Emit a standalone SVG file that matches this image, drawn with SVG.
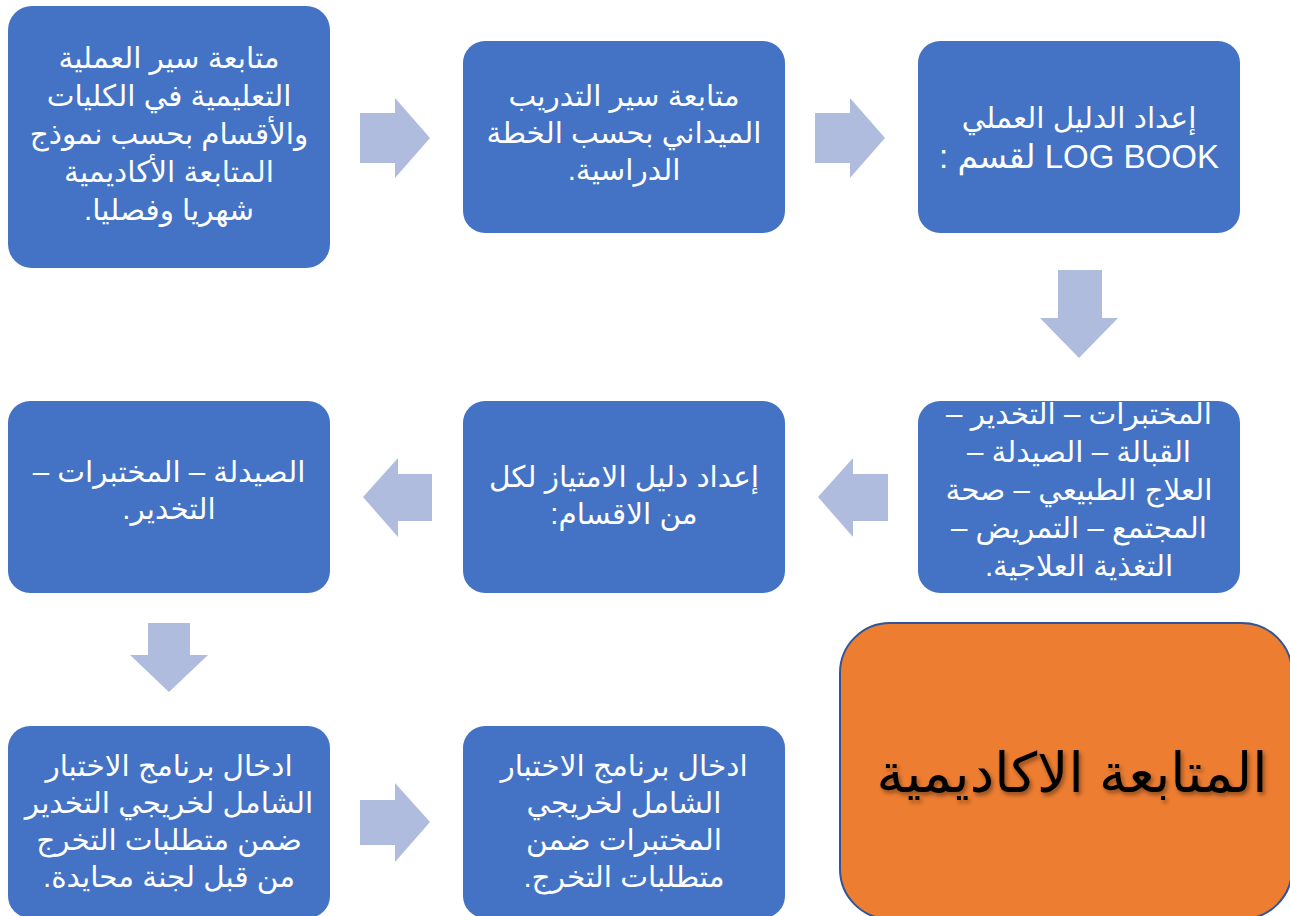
<svg xmlns="http://www.w3.org/2000/svg" width="1290" height="916" viewBox="0 0 1290 916">
<style>
.box{fill:#4472c4;}
.arr{fill:#b0bcde;}
.t{font-family:"Liberation Sans","DejaVu Sans",sans-serif;fill:#ffffff;font-size:29.5px;text-anchor:middle;direction:rtl;unicode-bidi:embed;}
.big{font-family:"Liberation Sans","DejaVu Sans",sans-serif;fill:#000000;font-size:55px;text-anchor:middle;direction:rtl;unicode-bidi:embed;}
</style>
<defs>
<filter id="sh" x="-10%" y="-10%" width="120%" height="130%">
<feDropShadow dx="2" dy="3" stdDeviation="2" flood-color="#000" flood-opacity="0.4"/>
</filter>
</defs>
<rect width="1290" height="916" fill="#ffffff"/>
<g id="connectors">
<polygon class="arr" points="360,113 395,113 395,98 430,138 395,178 395,163 360,163"/>
<polygon class="arr" points="815,113 850,113 850,98 885,138 850,178 850,163 815,163"/>
<polygon class="arr" points="1058,270 1102,270 1102,318 1118,318 1079,358 1040,318 1058,318"/>
<polygon class="arr" points="888,474 853,474 853,458 818,497 853,537 853,521 888,521"/>
<polygon class="arr" points="432,474 398,474 398,458 363,497 398,537 398,521 432,521"/>
<polygon class="arr" points="148,623 190,623 190,655 208,655 169,692 130,655 148,655"/>
<polygon class="arr" points="360,800 395,800 395,783 430,822 395,862 395,845 360,845"/>
</g>
<g id="node1">
<rect class="box" x="8" y="6" width="322" height="262" rx="24"/>
<text class="t" x="169" y="68">متابعة سير العملية</text>
<text class="t" x="169" y="106">التعليمية في الكليات</text>
<text class="t" x="169" y="144">والأقسام بحسب نموذج</text>
<text class="t" x="169" y="182">المتابعة الأكاديمية</text>
<text class="t" x="169" y="220">شهريا وفصليا.</text>
</g>
<g id="node2">
<rect class="box" x="463" y="41" width="322" height="192" rx="22"/>
<text class="t" x="624" y="106">متابعة سير التدريب</text>
<text class="t" x="624" y="143">الميداني بحسب الخطة</text>
<text class="t" x="624" y="180">الدراسية.</text>
</g>
<g id="node3">
<rect class="box" x="918" y="41" width="322" height="192" rx="22"/>
<text class="t" x="1079" y="128">إعداد الدليل العملي</text>
<text class="t" x="1079" y="168" style="font-size:33px">LOG BOOK لقسم :</text>
</g>
<g id="node4">
<rect class="box" x="918" y="401" width="322" height="192" rx="22"/>
<text class="t" x="1079" y="424">المختبرات – التخدير –</text>
<text class="t" x="1079" y="462">القبالة – الصيدلة –</text>
<text class="t" x="1079" y="500">العلاج الطبيعي – صحة</text>
<text class="t" x="1079" y="538">المجتمع – التمريض –</text>
<text class="t" x="1079" y="576">التغذية العلاجية.</text>
</g>
<g id="node5">
<rect class="box" x="463" y="401" width="322" height="192" rx="22"/>
<text class="t" x="624" y="487">إعداد دليل الامتياز لكل</text>
<text class="t" x="624" y="524">من الاقسام:</text>
</g>
<g id="node6">
<rect class="box" x="8" y="401" width="322" height="192" rx="22"/>
<text class="t" x="169" y="482">الصيدلة – المختبرات –</text>
<text class="t" x="169" y="519">التخدير.</text>
</g>
<g id="node7">
<rect class="box" x="8" y="726" width="322" height="192" rx="22"/>
<text class="t" x="169" y="776">ادخال برنامج الاختبار</text>
<text class="t" x="169" y="813">الشامل لخريجي التخدير</text>
<text class="t" x="169" y="850">ضمن متطلبات التخرج</text>
<text class="t" x="169" y="887">من قبل لجنة محايدة.</text>
</g>
<g id="node8">
<rect class="box" x="463" y="726" width="322" height="192" rx="22"/>
<text class="t" x="624" y="776">ادخال برنامج الاختبار</text>
<text class="t" x="624" y="813">الشامل لخريجي</text>
<text class="t" x="624" y="850">المختبرات ضمن</text>
<text class="t" x="624" y="887">متطلبات التخرج.</text>
</g>
<g id="node9">
<rect x="840" y="623" width="452" height="296" rx="50" fill="#ed7d31" stroke="#2f5597" stroke-width="2"/>
<text class="big" x="1072" y="792" filter="url(#sh)">المتابعة الاكاديمية</text>
</g>
</svg>
